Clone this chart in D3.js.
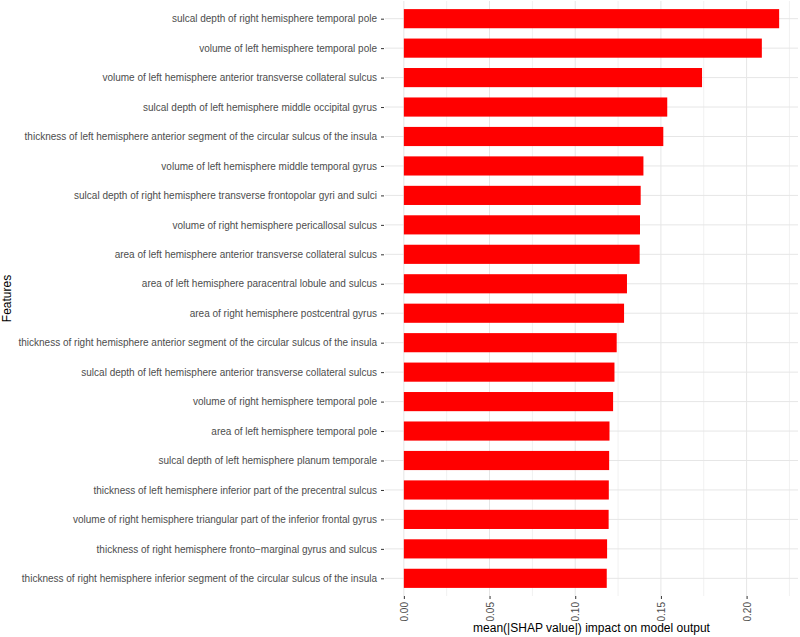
<!DOCTYPE html>
<html>
<head>
<meta charset="utf-8">
<script src="https://cdn.jsdelivr.net/npm/d3@7"></script>
<style>
    body { margin: 0; background: #fff; }
    #chart-area { width: 800px; height: 637px; }
    text { font-family: "Liberation Sans", Arial, sans-serif; }
</style>
</head>
<body>
<div id="chart-area"></div>
<script>
// features, top to bottom
let features = [
    "sulcal depth of right hemisphere temporal pole",
    "volume of left hemisphere temporal pole",
    "volume of left hemisphere anterior transverse collateral sulcus",
    "sulcal depth of left hemisphere middle occipital gyrus",
    "thickness of left hemisphere anterior segment of the circular sulcus of the insula",
    "volume of left hemisphere middle temporal gyrus",
    "sulcal depth of right hemisphere transverse frontopolar gyri and sulci",
    "volume of right hemisphere pericallosal sulcus",
    "area of left hemisphere anterior transverse collateral sulcus",
    "area of left hemisphere paracentral lobule and sulcus",
    "area of right hemisphere postcentral gyrus",
    "thickness of right hemisphere anterior segment of the circular sulcus of the insula",
    "sulcal depth of left hemisphere anterior transverse collateral sulcus",
    "volume of right hemisphere temporal pole",
    "area of left hemisphere temporal pole",
    "sulcal depth of left hemisphere planum temporale",
    "thickness of left hemisphere inferior part of the precentral sulcus",
    "volume of right hemisphere triangular part of the inferior frontal gyrus",
    "thickness of right hemisphere fronto\u2212marginal gyrus and sulcus",
    "thickness of right hemisphere inferior segment of the circular sulcus of the insula"
];

let meanShap = [0.2190, 0.2089, 0.1740, 0.1537, 0.1514, 0.1398, 0.1382, 0.1378, 0.1376, 0.1302,
                0.1285, 0.1242, 0.1229, 0.1221, 0.1200, 0.1198, 0.1196, 0.1195, 0.1186, 0.1184];

let xTicks = [0.00, 0.05, 0.10, 0.15, 0.20];
let xMinorTicks = [0.025, 0.075, 0.125, 0.175, 0.225];

let xTitle = "mean(|SHAP value|) impact on model output";
let yTitle = "Features";

let displayData = features.map((f, i) => ({feature: f, value: meanShap[i]}));

let panel = {left: 385, right: 798, top: 1, bottom: 596};

let svg = d3.select("#chart-area").append("svg")
    .attr("width", 800)
    .attr("height", 637);

let xScale = d3.scaleLinear()
    .domain([-0.011, 0.23])
    .range([panel.left, panel.right]);

let yScale = d3.scalePoint()
    .domain(features)
    .range([panel.top, panel.bottom])
    .padding(0.6);

let barHeight = yScale.step() * 0.65;

// minor grid
svg.append("g")
    .attr("class", "grid-minor")
    .selectAll("line")
    .data(xMinorTicks)
    .enter()
    .append("line")
    .attr("x1", d => xScale(d))
    .attr("x2", d => xScale(d))
    .attr("y1", panel.top)
    .attr("y2", panel.bottom)
    .attr("stroke", "#f1f1f1")
    .attr("stroke-width", 1);

// major grid
svg.append("g")
    .attr("class", "grid-major")
    .selectAll("line")
    .data(xTicks)
    .enter()
    .append("line")
    .attr("x1", d => xScale(d))
    .attr("x2", d => xScale(d))
    .attr("y1", panel.top)
    .attr("y2", panel.bottom)
    .attr("stroke", "#e6e6e6")
    .attr("stroke-width", 1);

svg.append("g")
    .attr("class", "grid-major")
    .selectAll("line")
    .data(features)
    .enter()
    .append("line")
    .attr("x1", panel.left)
    .attr("x2", panel.right)
    .attr("y1", d => yScale(d))
    .attr("y2", d => yScale(d))
    .attr("stroke", "#e6e6e6")
    .attr("stroke-width", 1);

// bars
svg.selectAll(".rect")
    .data(displayData)
    .enter()
    .append("rect")
    .attr("class", "rect")
    .attr("x", xScale(0))
    .attr("y", d => yScale(d.feature) - barHeight / 2)
    .attr("width", d => xScale(d.value) - xScale(0))
    .attr("height", barHeight)
    .style("fill", "#ff0000");

// axes
let yAxis = d3.axisLeft(yScale).tickSize(3).tickPadding(4);
let yAxisGroup = svg.append("g")
    .attr("class", "axis y-axis")
    .attr("transform", `translate(${panel.left - 1},0)`)
    .call(yAxis);

let xAxis = d3.axisBottom(xScale)
    .tickValues(xTicks)
    .tickFormat(d3.format(".2f"))
    .tickSize(3)
    .tickPadding(4);
let xAxisGroup = svg.append("g")
    .attr("class", "axis x-axis")
    .attr("transform", `translate(0,${panel.bottom})`)
    .call(xAxis);

svg.selectAll(".axis .domain").remove();
svg.selectAll(".axis .tick line").attr("stroke", "#333333");
svg.selectAll(".axis .tick text")
    .attr("fill", "#4d4d4d")
    .style("font-size", "10px");

xAxisGroup.selectAll(".tick text")
    .attr("transform", "rotate(-90)")
    .attr("x", -6)
    .attr("y", 0)
    .attr("dy", "0.35em")
    .attr("text-anchor", "end");

// titles
svg.append("text")
    .attr("x", (panel.left + panel.right) / 2)
    .attr("y", 632)
    .attr("text-anchor", "middle")
    .style("font-size", "12px")
    .attr("fill", "#000")
    .text(xTitle);

svg.append("text")
    .attr("transform", `translate(11,${(panel.top + panel.bottom) / 2}) rotate(-90)`)
    .attr("text-anchor", "middle")
    .style("font-size", "12px")
    .attr("fill", "#000")
    .text(yTitle);
</script>
</body>
</html>
